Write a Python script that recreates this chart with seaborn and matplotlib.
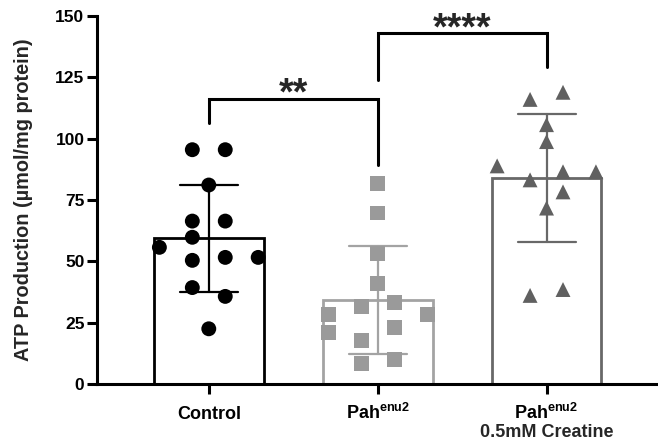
import numpy as np
import pandas as pd
import matplotlib
matplotlib.use("Agg")
import matplotlib.pyplot as plt
import seaborn as sns

sns.set_theme(style="ticks")
plt.rcParams['font.family'] = ['Liberation Sans', 'DejaVu Sans']
plt.rcParams['font.weight'] = 'bold'
plt.rcParams['mathtext.fontset'] = 'custom'
plt.rcParams['mathtext.rm'] = 'Liberation Sans:bold'
plt.rcParams['mathtext.bf'] = 'Liberation Sans:bold'

# groups and labels
groups = ["Control", "Pah", "Creatine"]
tick_labels = ["Control", r"Pah$^{\mathbf{enu2}}$", r"Pah$^{\mathbf{enu2}}$"]
second_line = ["", "", "0.5mM Creatine"]

# ATP production (umol/mg protein)
control_atp = [95.5, 95.5, 81.1, 66.4, 66.4, 59.8, 55.7, 50.4, 51.6, 51.6, 39.3, 35.7, 22.5]
pah_atp = [81.6, 69.7, 53.3, 41.0, 31.6, 33.2, 28.3, 20.9, 28.3, 23.0, 17.6, 9.8, 8.2]
creatine_atp = [116.0, 118.9, 105.7, 98.8, 88.9, 83.2, 86.5, 86.5, 78.3, 71.7, 36.1, 38.5]

# column slot of each point inside its group (Prism-like scatter layout)
control_slot = [-1, 1, 0, -1, 1, -1, -3, -1, 1, 3, -1, 1, 0]
pah_slot = [0, 0, 0, 0, -1, 1, -3, -3, 3, 1, -1, 1, -1]
creatine_slot = [-1, 1, 0, 0, -3, -1, 1, 3, 1, 0, -1, 1]

colors = {"Control": "#000000", "Pah": "#a3a3a3", "Creatine": "#686868"}
point_colors = {"Control": "#000000", "Pah": "#9a9a9a", "Creatine": "#606060"}
markers = {"Control": "o", "Pah": "s", "Creatine": "^"}

df = pd.DataFrame({
    "group": ["Control"] * len(control_atp) + ["Pah"] * len(pah_atp) + ["Creatine"] * len(creatine_atp),
    "atp": control_atp + pah_atp + creatine_atp,
    "slot": control_slot + pah_slot + creatine_slot,
})
slot_w = 0.0975
df["xpos"] = df["group"].map({g: i for i, g in enumerate(groups)}) + df["slot"] * slot_w

fig = plt.figure(figsize=(6.58, 4.41), dpi=100)
ax = fig.add_axes([0.1474, 0.1293, 0.8526, 0.8344])

sns.barplot(data=df, x="group", y="atp", hue="group", order=groups, hue_order=groups,
            palette=colors, fill=False, errorbar="sd", capsize=0.343, width=0.65,
            linewidth=2.0, err_kws={"linewidth": 1.6}, legend=False, ax=ax)

sns.scatterplot(data=df, x="xpos", y="atp", hue="group", style="group",
                palette=point_colors, markers=markers, hue_order=groups, style_order=groups,
                s=115, linewidth=0, legend=False, zorder=3, ax=ax)

# significance brackets
def bracket(x1, x2, y, y_left, y_right, label, y_text):
    ax.plot([x1, x1, x2, x2], [y_left, y, y, y_right], color="black", lw=2.2,
            solid_joinstyle="miter", clip_on=False)
    ax.text((x1 + x2) / 2, y_text, label, ha="center", va="baseline", fontsize=27,
            fontweight="bold", clip_on=False)

bracket(0, 1, 116.2, 106.4, 89.3, "**", 114.0)
bracket(1, 2, 143.1, 123.9, 129.2, "****", 140.3)

ax.set_xlim(-0.662, 2.66)
ax.set_ylim(0, 150)
ax.set_yticks([0, 25, 50, 75, 100, 125, 150])
ax.set_xticks(range(3))
ax.set_xticklabels(tick_labels, va="baseline", fontsize=13, fontweight="bold")
for i, txt in enumerate(second_line):
    if txt:
        ax.text(i, -0.144, txt, transform=ax.get_xaxis_transform(), ha="center",
                va="baseline", fontsize=13, fontweight="bold")
ax.set_xlabel("")
ax.set_ylabel("ATP Production (µmol/mg protein)", fontsize=14.3, fontweight="bold")
ax.yaxis.set_label_coords(-0.114, 0.5)

for side in ["top", "right"]:
    ax.spines[side].set_visible(False)
for side in ["left", "bottom"]:
    ax.spines[side].set_linewidth(2.2)
    ax.spines[side].set_color("black")
ax.tick_params(axis="both", width=2.2, length=7, color="black", labelcolor="black")
ax.tick_params(axis="y", labelsize=12.5, pad=2)
ax.tick_params(axis="x", pad=18)
for lab in ax.get_yticklabels():
    lab.set_fontweight("bold")

fig.savefig("out.png", dpi=100)
